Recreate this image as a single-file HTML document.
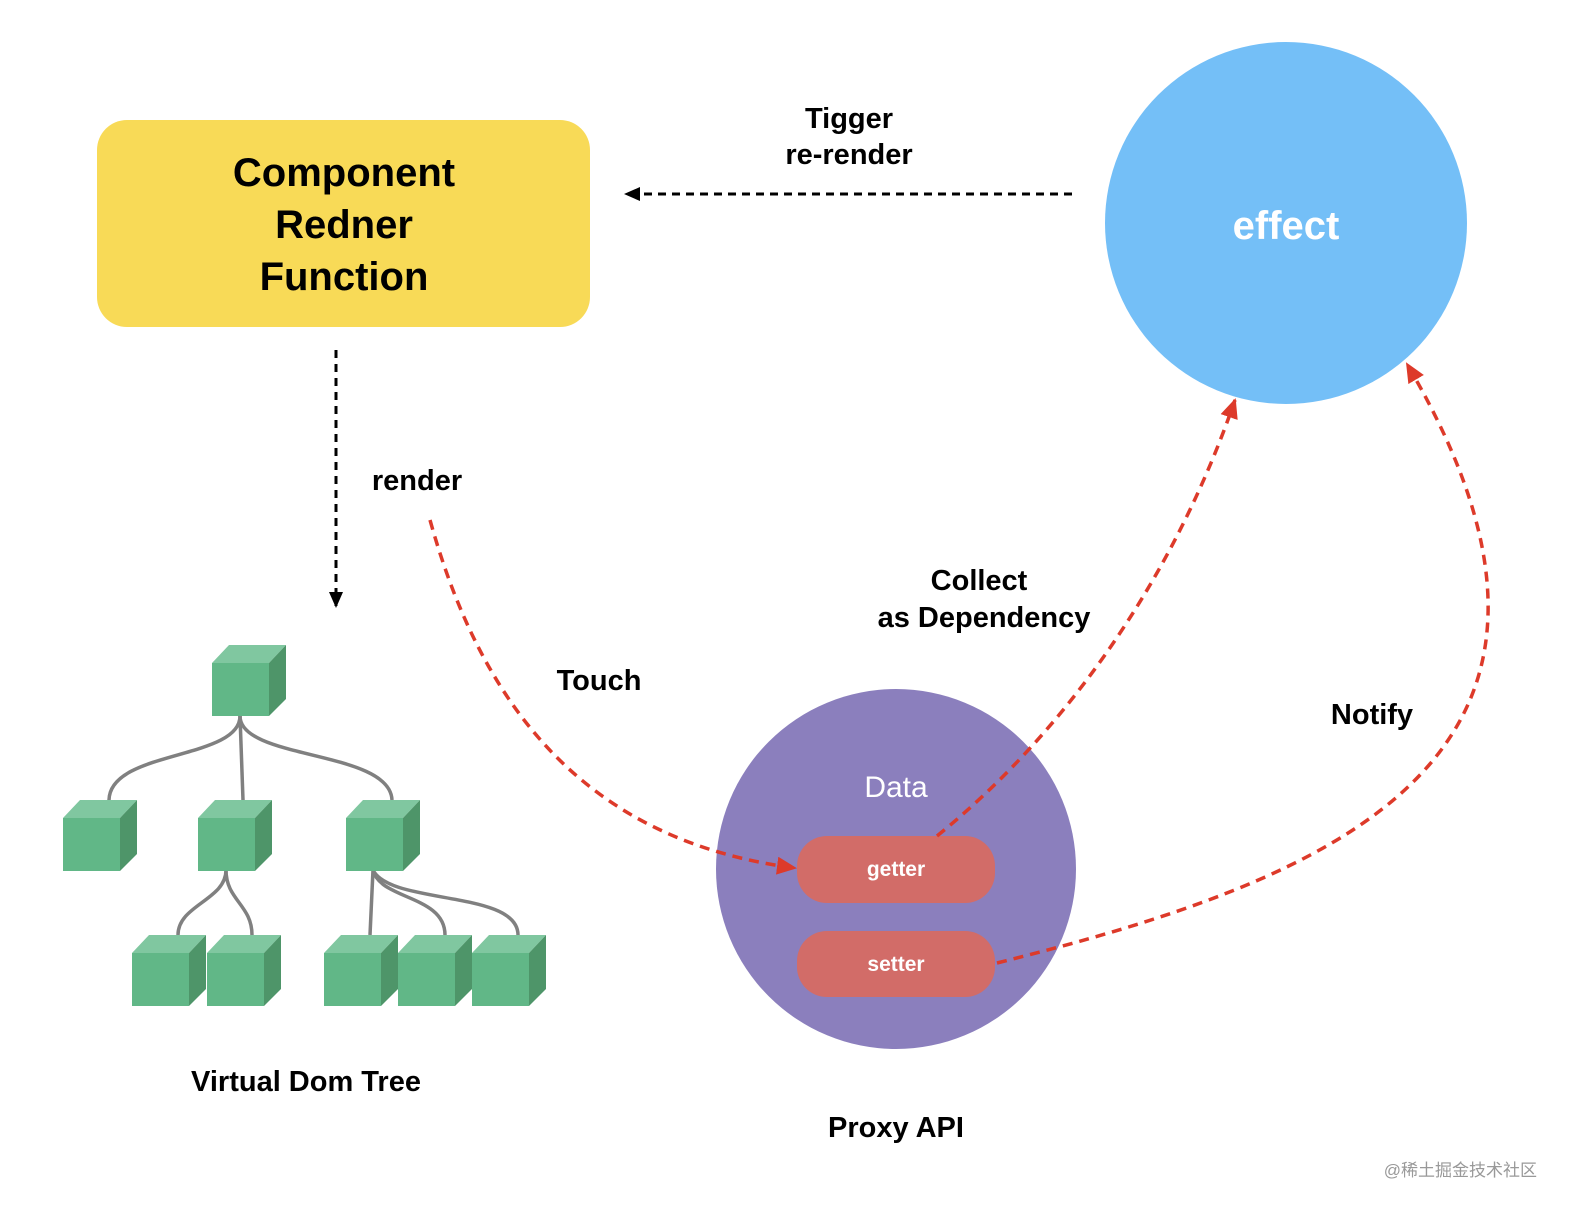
<!DOCTYPE html>
<html><head><meta charset="utf-8"><style>
body{margin:0;background:#fff;}
svg text{font-family:"Liberation Sans",Arial,sans-serif;font-weight:bold;}
</style></head><body>
<svg width="1576" height="1216" viewBox="0 0 1576 1216" xmlns="http://www.w3.org/2000/svg">
<defs>
<marker id="ab" markerWidth="16" markerHeight="14" refX="14" refY="7" orient="auto" markerUnits="userSpaceOnUse"><path d="M0,0 L16,7 L0,14 z" fill="#000"/></marker>
<marker id="ar" markerWidth="20" markerHeight="18" refX="18" refY="9" orient="auto" markerUnits="userSpaceOnUse"><path d="M0,0 L20,9 L0,18 z" fill="#dd3a2a"/></marker>
</defs>
<rect x="97" y="120" width="493" height="207" rx="30" fill="#f8da57"/>
<text x="344" y="186" font-size="40" text-anchor="middle">Component</text>
<text x="344" y="238" font-size="40" text-anchor="middle">Redner</text>
<text x="344" y="290" font-size="40" text-anchor="middle">Function</text>
<circle cx="1286" cy="223" r="181" fill="#74bff7"/>
<text x="1286" y="239" font-size="40" fill="#fff" text-anchor="middle">effect</text>
<circle cx="896" cy="869" r="180" fill="#8b7fbd"/>
<text x="896" y="797" font-size="30" fill="#fff" text-anchor="middle" style="font-weight:normal">Data</text>
<rect x="797" y="836" width="198" height="67" rx="30" fill="#d26c68"/>
<rect x="797" y="931" width="198" height="66" rx="30" fill="#d26c68"/>
<text x="896" y="876" font-size="21" fill="#fff" text-anchor="middle">getter</text>
<text x="896" y="971" font-size="21" fill="#fff" text-anchor="middle">setter</text>
<line x1="1072" y1="194" x2="626" y2="194" stroke="#000" stroke-width="3" stroke-dasharray="8,6" marker-end="url(#ab)"/>
<line x1="336" y1="350" x2="336" y2="606" stroke="#000" stroke-width="3" stroke-dasharray="8,6" marker-end="url(#ab)"/>
<text x="849" y="128" font-size="29" text-anchor="middle">Tigger</text>
<text x="849" y="164" font-size="29" text-anchor="middle">re-render</text>
<text x="417" y="490" font-size="29" text-anchor="middle">render</text>
<text x="599" y="690" font-size="29" text-anchor="middle">Touch</text>
<text x="979" y="590" font-size="29" text-anchor="middle">Collect</text>
<text x="984" y="627" font-size="29" text-anchor="middle">as  Dependency</text>
<text x="1372" y="724" font-size="29" text-anchor="middle">Notify</text>
<text x="306" y="1091" font-size="29" text-anchor="middle">Virtual Dom Tree</text>
<text x="896" y="1137" font-size="29" text-anchor="middle">Proxy API</text>
<text x="1537" y="1176" font-size="17" fill="#999" text-anchor="end" style="font-weight:normal;font-family:'Liberation Sans','Noto Sans CJK SC',sans-serif">@稀土掘金技术社区</text>
<g fill="none" stroke="#dd3a2a" stroke-width="3.5" stroke-dasharray="10,7">
<path d="M430,520 C480,700 580,840 795,868" marker-end="url(#ar)"/>
<path d="M937,836 C1080,720 1180,560 1235,400" marker-end="url(#ar)"/>
<path d="M997,963 C1330,880 1640,760 1407,364" marker-end="url(#ar)"/>
</g>
<g fill="none" stroke="#808080" stroke-width="3.5">
<path d="M240,716 C240,760 110,750 109,800"/>
<path d="M240,716 L243,800"/>
<path d="M240,716 C240,760 390,750 392,800"/>
<path d="M226,870 C226,900 178,905 178,935"/>
<path d="M226,870 C226,900 252,905 252,935"/>
<path d="M373,870 L370,935"/>
<path d="M373,870 C380,900 445,895 445,935"/>
<path d="M373,870 C390,905 518,890 518,935"/>
</g>
<g>
<g transform="translate(212,663)"><rect width="57" height="53" fill="#61b787"/><path d="M0,0 L17,-18 L74,-18 L57,0z" fill="#80c7a0"/><path d="M57,0 L74,-18 L74,36 L57,53z" fill="#4e9569"/></g>
<g transform="translate(63,818)"><rect width="57" height="53" fill="#61b787"/><path d="M0,0 L17,-18 L74,-18 L57,0z" fill="#80c7a0"/><path d="M57,0 L74,-18 L74,36 L57,53z" fill="#4e9569"/></g>
<g transform="translate(198,818)"><rect width="57" height="53" fill="#61b787"/><path d="M0,0 L17,-18 L74,-18 L57,0z" fill="#80c7a0"/><path d="M57,0 L74,-18 L74,36 L57,53z" fill="#4e9569"/></g>
<g transform="translate(346,818)"><rect width="57" height="53" fill="#61b787"/><path d="M0,0 L17,-18 L74,-18 L57,0z" fill="#80c7a0"/><path d="M57,0 L74,-18 L74,36 L57,53z" fill="#4e9569"/></g>
<g transform="translate(132,953)"><rect width="57" height="53" fill="#61b787"/><path d="M0,0 L17,-18 L74,-18 L57,0z" fill="#80c7a0"/><path d="M57,0 L74,-18 L74,36 L57,53z" fill="#4e9569"/></g>
<g transform="translate(207,953)"><rect width="57" height="53" fill="#61b787"/><path d="M0,0 L17,-18 L74,-18 L57,0z" fill="#80c7a0"/><path d="M57,0 L74,-18 L74,36 L57,53z" fill="#4e9569"/></g>
<g transform="translate(324,953)"><rect width="57" height="53" fill="#61b787"/><path d="M0,0 L17,-18 L74,-18 L57,0z" fill="#80c7a0"/><path d="M57,0 L74,-18 L74,36 L57,53z" fill="#4e9569"/></g>
<g transform="translate(398,953)"><rect width="57" height="53" fill="#61b787"/><path d="M0,0 L17,-18 L74,-18 L57,0z" fill="#80c7a0"/><path d="M57,0 L74,-18 L74,36 L57,53z" fill="#4e9569"/></g>
<g transform="translate(472,953)"><rect width="57" height="53" fill="#61b787"/><path d="M0,0 L17,-18 L74,-18 L57,0z" fill="#80c7a0"/><path d="M57,0 L74,-18 L74,36 L57,53z" fill="#4e9569"/></g>
</g>
</svg>
</body></html>
